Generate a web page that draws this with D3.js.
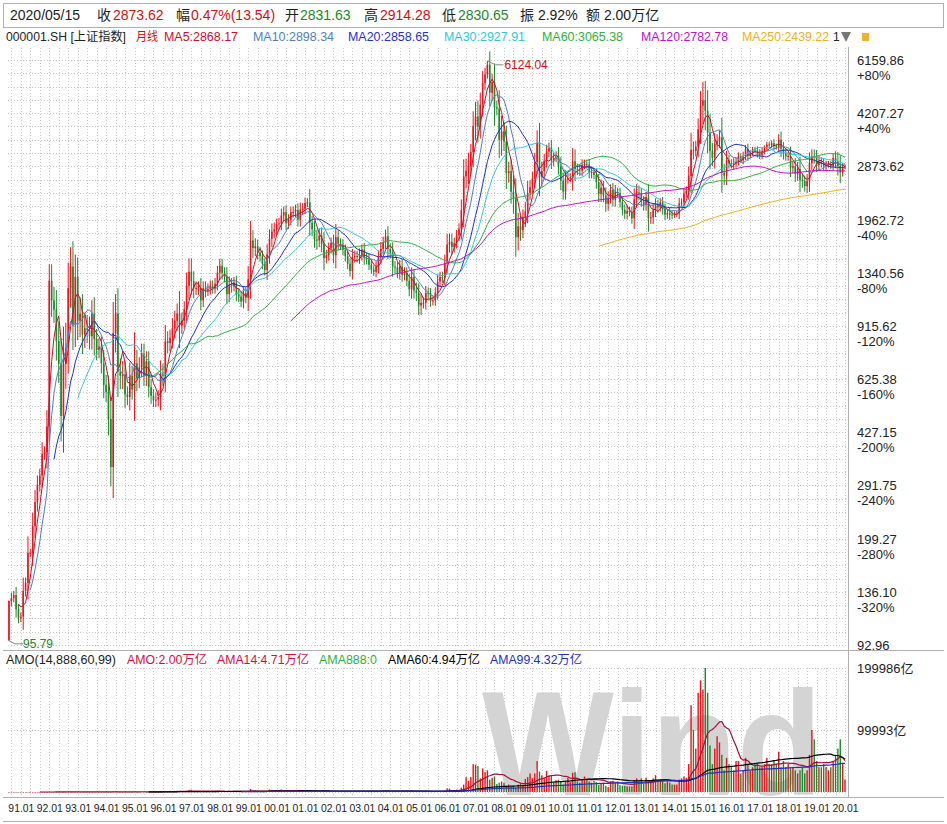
<!DOCTYPE html>
<html><head><meta charset="utf-8">
<script src="https://cdn.jsdelivr.net/npm/d3@7"></script>
<style>
body{margin:0;background:#fff}
text{font-family:"Liberation Sans","Noto Sans CJK SC",sans-serif}
</style></head><body>
<script>
// monthly close, 1990-12 .. 2020-05
const closes = [127.6,
129.97,133,120,113,114,137,145,180,180,218,259,292.75,
313,365,371,445,1266,1100,1029,822,700,480,700,780,
1200,1400,925,1300,950,1000,860,900,890,850,1000,833,
770,790,700,600,570,470,333,870,1000,660,640,647,
560,550,640,580,700,630,680,750,640,710,590,555,
537,540,550,650,640,820,810,840,900,950,1000,917,
950,1030,1220,1350,1260,1200,1200,1200,1100,1200,1180,1194,
1220,1200,1240,1340,1410,1340,1300,1150,1230,1220,1250,1147,
1130,1090,1160,1120,1280,1690,1600,1620,1550,1510,1430,1367,
1530,1710,1800,1830,1900,1910,2020,2070,1910,1960,2070,2073,
2100,1960,2110,2120,2210,2220,1920,1830,1700,1690,1750,1646,
1490,1520,1600,1660,1520,1730,1650,1640,1580,1510,1430,1357,
1500,1510,1500,1520,1580,1490,1480,1420,1370,1350,1400,1497,
1590,1670,1740,1590,1550,1400,1390,1340,1400,1320,1340,1266,
1190,1300,1180,1160,1060,1080,1080,1160,1155,1092,1100,1161,
1258,1299,1298,1440,1641,1672,1612,1658,1752,1837,2099,2675,
2786,2881,3183,3841,4109,3820,4471,5218,5552,5954,4871,5262,
4383,4348,3473,3693,3433,2736,2775,2397,2293,1729,1871,1821,
1991,2082,2373,2477,2632,2959,3412,2667,2779,2996,3195,3277,
2989,3051,3110,2870,2592,2398,2638,2639,2656,2979,2820,2808,
2790,2905,2928,2911,2743,2762,2701,2568,2359,2468,2333,2199,
2292,2428,2262,2396,2372,2225,2103,2047,2086,2069,1980,2269,
2385,2365,2237,2177,2300,1979,1994,2098,2175,2141,2220,2116,
2033,2056,2033,2026,2039,2048,2202,2217,2364,2420,2683,3235,
3210,3310,3748,4442,4612,4277,3664,3206,3053,3383,3445,3539,
2738,2688,3004,2938,2917,2930,2979,3085,3005,3100,3250,3104,
3159,3242,3223,3155,3117,3192,3273,3361,3349,3393,3317,3307,
3481,3259,3169,3082,3095,2847,2876,2725,2821,2603,2588,2494,
2585,2941,3091,3078,2899,2979,2933,2886,2905,2929,2872,3050,
2977,2880,2750,2860,2873.62];
const firstOpen = 96.05;
// monthly high-low range, %
const ranges = [1,
8,6,12,8,6,20,8,25,6,20,18,14,
10,18,8,25,25,25,20,30,30,40,60,40,
40,30,40,35,30,25,30,20,20,20,20,25,
15,12,15,20,15,25,30,50,30,40,20,20,
20,12,20,15,50,20,15,15,15,15,15,12,
10,10,10,20,15,25,15,12,15,15,15,35,
12,12,20,20,20,15,10,10,15,10,10,8,
8,8,8,10,10,10,8,15,12,10,8,10,
8,8,10,8,20,30,15,12,10,8,8,8,
15,14,12,10,8,8,10,8,10,8,8,8,
8,10,10,8,8,6,20,10,12,14,10,12,
18,8,8,8,12,20,10,8,8,8,8,8,
12,8,8,10,8,10,8,8,6,6,8,10,
10,8,10,15,8,15,8,8,10,10,8,8,
10,14,12,12,14,14,8,10,8,8,6,8,
10,8,8,12,16,12,12,8,8,8,16,26,
18,20,12,22,22,24,18,18,10,6,20,12,
28,10,28,24,14,24,14,18,24,30,20,16,
12,14,18,10,10,14,18,30,14,10,10,8,
12,8,6,12,14,12,12,8,6,20,18,8,
8,8,6,6,8,8,6,10,12,12,10,12,
10,8,10,10,6,8,8,8,8,6,8,16,
12,10,8,8,8,20,8,10,10,8,6,8,
8,6,8,6,4,4,8,6,8,6,14,26,
12,8,16,22,28,30,32,28,12,16,10,10,
30,14,14,8,6,8,6,6,4,6,6,8,
4,4,4,6,6,6,4,4,4,4,6,4,
8,12,10,6,6,14,8,12,10,18,10,8,
10,16,10,10,10,8,6,8,6,4,4,6,
10,14,16,6,2.92];
// monthly amount, 亿
const amounts = [1,
1,1,1,1,1,2,2,3,4,6,8,10,
15,20,25,40,150,120,100,90,60,70,90,100,
300,400,300,350,250,200,200,250,200,150,300,250,
200,150,200,150,120,100,100,800,900,400,300,250,
150,120,250,150,700,300,350,400,300,250,200,150,
120,100,250,600,700,1200,900,1000,1500,1800,2000,1500,
800,900,2000,3500,3500,1500,1000,900,1000,1200,900,900,
1200,900,1500,2000,2200,1500,1200,1000,1200,800,1000,700,
700,500,900,800,2000,5000,2500,2500,2000,1200,900,700,
2000,4000,3500,2500,2200,2500,3500,3000,1500,1800,2200,2000,
1200,1500,2500,2000,2200,2000,1500,1000,800,1000,900,800,
700,700,1300,1500,800,2200,1500,1200,700,600,800,700,
1200,1000,1000,1500,1500,1000,1000,900,700,800,1000,1300,
2000,2500,3000,1800,1400,1200,1000,900,1500,1100,1100,800,
700,1100,800,900,700,900,700,1000,1200,700,700,900,
1300,1800,1300,2500,5800,5500,3300,3000,3800,3500,7000,12000,
24000,18000,24000,45000,44000,42000,22000,38000,32000,35000,20000,23000,
25000,13000,15000,17000,15000,8500,12000,8000,10000,7000,12000,14000,
12000,21000,24000,30000,22000,30000,50000,33000,27000,23000,34000,26000,
27000,15000,19000,20000,17000,12000,18000,23000,16000,31000,32000,17000,
15000,20000,25000,20000,17000,15000,18000,16000,11000,15000,15000,10000,
8000,17000,18000,15000,17000,11000,10000,10000,9000,9000,9000,19000,
22000,18000,22000,13000,23000,18000,18000,22000,27000,20000,20000,17000,
14000,17000,15000,12000,12000,12000,20000,22000,25000,23000,45000,140000,
100000,70000,160000,180000,165000,200000,160000,75000,45000,70000,90000,80000,
60000,35000,55000,45000,40000,35000,50000,50000,30000,35000,55000,45000,
35000,40000,45000,45000,40000,40000,45000,55000,45000,45000,50000,45000,
65000,40000,50000,40000,45000,40000,40000,35000,30000,35000,40000,30000,
35000,60000,100000,85000,50000,40000,40000,45000,40000,35000,40000,50000,
60000,70000,85000,45000,20000];
const priceTicks = [6159.86,4207.27,2873.62,1962.72,1340.56,915.62,625.38,427.15,291.75,199.27,136.10,92.96];
const pctTicks = ["+80%","+40%","","-40%","-80%","-120%","-160%","-200%","-240%","-280%","-320%",""];
const yearLabels = ["91","92","93","94","95","96","97","98","99","00","01","02","03","04","05","06","07","08","09","10","11","12","13","14","15","16","17","18","19","20"];
const maPeriods = [5,10,20,30,60,120,250];
const maColors = ["#c8102e","#4f81bd","#1f2fd0","#30c8d8","#30b040","#c010c8","#f0b020"];

const W = 947, H = 824;
const svg = d3.select("body").append("svg").attr("width", W).attr("height", H);
const n = closes.length;
const data = closes.map((c, i) => {
  const o = i === 0 ? firstOpen : closes[i - 1];
  const k = 1 + ranges[i] / 200;
  return { i, o, c, h: Math.max(o, c) * k, l: Math.min(o, c) / k, up: c >= o, a: amounts[i] };
});
data[0].l = 95.79; data[0].h = 127.61;
data[202].h = 6124.04;

const x = d3.scaleLinear().domain([0, n - 1]).range([9, 845]);
const y = d3.scaleLog().domain([92.96, 6159.86]).range([645, 60]);
const yv = d3.scaleLinear().domain([0, 199986]).range([792, 668]);

// frame
const g0 = svg.append("g").attr("stroke", "#b0b0b0").attr("fill", "none");
g0.append("rect").attr("x", 3.5).attr("y", 3.5).attr("width", 940).attr("height", 24);
g0.append("line").attr("x1", 848.5).attr("x2", 848.5).attr("y1", 47).attr("y2", 797);
g0.append("line").attr("x1", 3).attr("x2", 944).attr("y1", 650.5).attr("y2", 650.5);
g0.append("line").attr("x1", 3).attr("x2", 944).attr("y1", 797.5).attr("y2", 797.5);
g0.append("line").attr("x1", 3).attr("x2", 944).attr("y1", 821.5).attr("y2", 821.5);

// grid
const grid = svg.append("g").attr("stroke", "#c8c8c8").attr("stroke-dasharray", "1,2").attr("stroke-width", 1);
for (let v = 0; v < n; v += 4) {
  grid.append("line").attr("x1", Math.round(x(v + 1)) + 0.5).attr("x2", Math.round(x(v + 1)) + 0.5).attr("y1", 48).attr("y2", 648);
  grid.append("line").attr("x1", Math.round(x(v + 1)) + 0.5).attr("x2", Math.round(x(v + 1)) + 0.5).attr("y1", 668).attr("y2", 795);
}
priceTicks.forEach((p) => {
  for (let q = 0; q < 4; q++) {
    const yy = y(p) + q * (y(priceTicks[1]) - y(priceTicks[0])) / 4;
    if (yy > 646) continue;
    grid.append("line").attr("x1", 8).attr("x2", 848).attr("y1", Math.round(yy) + 0.5).attr("y2", Math.round(yy) + 0.5);
  }
});
[0, 99993, 199986].forEach(v =>
  grid.append("line").attr("x1", 8).attr("x2", 848).attr("y1", Math.round(yv(v)) + 0.5).attr("y2", Math.round(yv(v)) + 0.5));

// price axis labels
const ax = svg.append("g").attr("font-size", 13).attr("fill", "#222");
ax.selectAll(".pt").data(priceTicks).enter().append("text")
  .attr("x", 857).attr("y", d => y(d) + 5).text(d => d.toFixed(2));
ax.selectAll(".pc").data(priceTicks).enter().append("text")
  .attr("x", 857).attr("y", d => y(d) + 20).text((d, i) => pctTicks[i]);
ax.append("text").attr("x", 857).attr("y", yv(199986) + 5).text("199986亿");
ax.append("text").attr("x", 857).attr("y", yv(99993) + 5).text("99993亿");
ax.selectAll(".yr").data(yearLabels).enter().append("text")
  .attr("x", (d, i) => x(1 + 12 * i) - 3).attr("y", 812).attr("font-size", 11)
  .attr("textLength", 26).attr("lengthAdjust", "spacingAndGlyphs").text(d => d + ".01");

// watermark
svg.append("text").attr("x", 482).attr("y", 794).attr("font-size", 132).attr("font-weight", "bold")
  .attr("fill", "#d4d4d4").attr("textLength", 340).attr("lengthAdjust", "spacingAndGlyphs")
  .attr("transform", "translate(0,-94) scale(1,1.12)").text("Wind");

// candles
const up = "#e8141e", dn = "#1a8a2a";
const cg = svg.append("g");
cg.selectAll("line").data(data).enter().append("line")
  .attr("x1", d => x(d.i)).attr("x2", d => x(d.i))
  .attr("y1", d => y(d.h)).attr("y2", d => y(d.l))
  .attr("stroke", d => d.up ? up : dn).attr("stroke-width", 1);
cg.selectAll("rect").data(data).enter().append("rect")
  .attr("x", d => x(d.i) - 0.8).attr("width", 1.6)
  .attr("y", d => y(Math.max(d.o, d.c)))
  .attr("height", d => Math.max(1, Math.abs(y(d.o) - y(d.c))))
  .attr("fill", d => d.up ? up : dn);

// moving averages
const ma = (arr, k) => arr.map((v, i) => i < k - 1 ? null : d3.mean(arr.slice(i - k + 1, i + 1)));
const line = d3.line().defined(d => d[1] != null).x(d => x(d[0]));
maPeriods.forEach((k, j) => {
  const m = ma(closes, k).map((v, i) => [i, v]);
  svg.append("path").attr("fill", "none").attr("stroke", maColors[j]).attr("stroke-width", 1)
    .attr("d", line.y(d => y(d[1]))(m));
});

// annotations
svg.append("path").attr("d", `M${x(202)},${y(6124.04)}l8,4h8`).attr("stroke", "#888").attr("fill", "none");
svg.append("text").attr("x", x(202) + 17).attr("y", y(6124.04) + 8).attr("font-size", 12).attr("fill", "#d01010").text("6124.04");
svg.append("path").attr("d", `M${x(0)},${y(95.79)}l6,3h8`).attr("stroke", "#888").attr("fill", "none");
svg.append("text").attr("x", x(0) + 14).attr("y", y(95.79) + 7).attr("font-size", 12).attr("fill", "#1a8a2a").text("95.79");

// volume bars
svg.append("g").selectAll("rect").data(data).enter().append("rect")
  .attr("x", d => x(d.i) - 0.7).attr("width", 1.4)
  .attr("y", d => yv(d.a)).attr("height", d => Math.max(0.5, yv(0) - yv(d.a)))
  .attr("fill", d => d.up ? up : dn);
[[14, "#a0103a"], [60, "#000"], [99, "#2030c0"]].forEach(([k, col]) => {
  const m = ma(amounts, k).map((v, i) => [i, v]);
  svg.append("path").attr("fill", "none").attr("stroke", col).attr("stroke-width", 1.2)
    .attr("d", line.y(d => yv(d[1]))(m));
});

// header texts
const t = (g, xx, yy, s, col, fs, len) => {
  const e = g.append("text").attr("x", xx).attr("y", yy).attr("fill", col).attr("font-size", fs).text(s);
  if (len) e.attr("textLength", len).attr("lengthAdjust", "spacingAndGlyphs");
};
const h1 = svg.append("g");
[[10, "2020/05/15", "#222"], [97, "收", "#222"], [113, "2873.62", "#d01010"], [176, "幅", "#222"],
 [191, "0.47%(13.54)", "#d01010"], [285, "开", "#222"], [300, "2831.63", "#1a8a2a"], [364, "高", "#222"],
 [380, "2914.28", "#d01010"], [442, "低", "#222"], [458, "2830.65", "#1a8a2a"], [520, "振 2.92%", "#222"],
 [586, "额 2.00万亿", "#222"]].forEach(d => t(h1, d[0], 20, d[1], d[2], 14));
const h2 = svg.append("g");
[[6, "000001.SH [上证指数]", "#222", 120], [136, "月线", "#d01010", 22], [164, "MA5:2868.17", maColors[0], 74],
 [253, "MA10:2898.34", maColors[1], 81], [348, "MA20:2858.65", maColors[2], 81], [444, "MA30:2927.91", maColors[3], 81],
 [542, "MA60:3065.38", maColors[4], 81], [641, "MA120:2782.78", maColors[5], 87], [742, "MA250:2439.22", maColors[6], 87],
 [833, "1", "#222"]].forEach(d => t(h2, d[0], 41, d[1], d[2], 12, d[3]));
svg.append("path").attr("d", "M841,32h10l-5,10z").attr("fill", "#777");
svg.append("rect").attr("x", 862).attr("y", 33).attr("width", 7).attr("height", 8).attr("fill", "#f0b030");
const h3 = svg.append("g");
[[6, "AMO(14,888,60,99)", "#222", 110], [127, "AMO:2.00万亿", "#d01040", 80], [217, "AMA14:4.71万亿", "#d01040", 92],
 [319, "AMA888:0", "#30b040", 58], [388, "AMA60:4.94万亿", "#000", 92], [490, "AMA99:4.32万亿", "#2030c0", 92]]
 .forEach(d => t(h3, d[0], 664, d[1], d[2], 12, d[3]));
</script></body></html>
